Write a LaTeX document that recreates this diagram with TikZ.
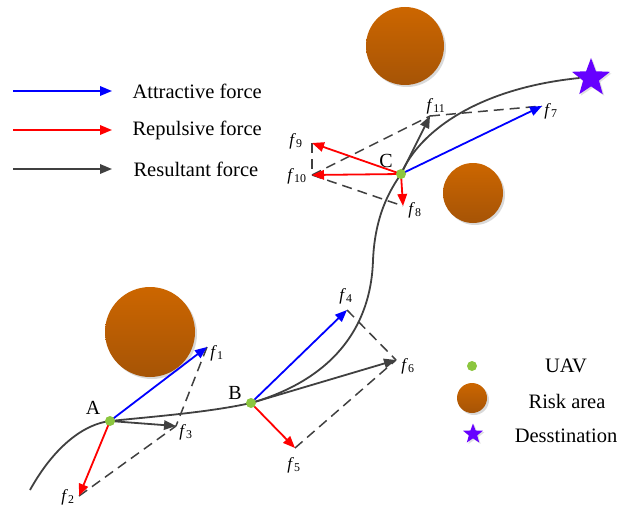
\documentclass[tikz,border=0pt]{standalone}
\usepackage{fontspec}
\setmainfont{Liberation Serif}
\usetikzlibrary{arrows.meta,shapes.geometric,shadows}

\definecolor{attract}{RGB}{0,0,255}
\definecolor{repulse}{RGB}{255,0,0}
\definecolor{result}{RGB}{64,64,64}
\definecolor{risktop}{RGB}{204,102,0}
\definecolor{riskbot}{RGB}{166,84,6}
\definecolor{uav}{RGB}{140,198,63}
\definecolor{goal}{RGB}{102,0,255}

\begin{document}
\begin{tikzpicture}[x=1pt,y=-1pt,
  force/.style={line width=1.8pt,-{Triangle[length=12pt,width=9.5pt]}},
  att/.style={force,attract},
  rep/.style={force,repulse},
  res/.style={force,result},
  comp/.style={result,line width=1.5pt,dash pattern=on 10pt off 6pt},
  risk/.style={circle,top color=risktop,bottom color=riskbot,inner sep=0pt,
    drop shadow={shadow xshift=2pt,shadow yshift=-2pt,fill=black!25,opacity=0.6}},
  uavdot/.style={circle,fill=uav,inner sep=0pt,minimum size=10pt},
  goalstar/.style={star,star points=5,star point ratio=2.4,fill=goal,inner sep=0pt,
    drop shadow={shadow xshift=1.5pt,shadow yshift=-1.5pt,fill=black!20,opacity=0.6}},
  flab/.style={font=\fontsize{17}{20}\selectfont},
  ptlab/.style={font=\fontsize{20}{24}\selectfont},
  legtext/.style={font=\fontsize{20.5}{24}\selectfont}]
\useasboundingbox (0,0) rectangle (631,508);

% risk areas
\node[risk,minimum size=78pt] (riskN) at (405,46) {};
\node[risk,minimum size=60pt] (riskE) at (473,193) {};
\node[risk,minimum size=90pt] (riskW) at (150,332) {};

% UAV positions, force tips
\coordinate (A) at (110,421);
\coordinate (B) at (251,403);
\coordinate (C) at (401,174);
\coordinate (start) at (30,490);
\coordinate (bend) at (373,260);
\coordinate (f1) at (207,347);
\coordinate (f2) at (79,496);
\coordinate (f3) at (176,426);
\coordinate (f4) at (347,310);
\coordinate (f5) at (295,448);
\coordinate (f6) at (396,360);
\coordinate (f7) at (542,106);
\coordinate (f8) at (403,206);
\coordinate (f9) at (312,143);
\coordinate (f10) at (312,175);
\coordinate (f11) at (430,116);

% destination
\node[goalstar,minimum size=40pt] (goal) at (591,78) {};

% flight path
\draw[result,line width=1.8pt] (start) .. controls (55,445) and (85,424) .. (A)
  .. controls (160,416) and (210,412) .. (B)
  .. controls (330,380) and (371,330) .. (bend)
  .. controls (375,215) and (390,190) .. (C)
  .. controls (420,130) and (480,88) .. (goal.west);

% parallelograms
\draw[comp] (f1) -- (f3);
\draw[comp] (f2) -- (f3);
\draw[comp] (f4) -- (f6);
\draw[comp] (f5) -- (f6);
\draw[comp] (f9) -- (f10);
\draw[comp] (f10) -- (f8);
\draw[comp] (f10) -- (f11);
\draw[comp] (f11) -- (f7);

% forces at A
\draw[att] (A) -- (f1);
\draw[rep] (A) -- (f2);
\draw[res] (A) -- (f3);
% forces at B
\draw[att] (B) -- (f4);
\draw[rep] (B) -- (f5);
\draw[res] (B) -- (f6);
% forces at C
\draw[att] (C) -- (f7);
\draw[rep] (C) -- (f8);
\draw[rep] (C) -- (f9);
\draw[rep] (C) -- (f10);
\draw[res] (C) -- (f11);

% UAVs
\node[uavdot] (uavA) at (A) {};
\node[uavdot] (uavB) at (B) {};
\node[uavdot] (uavC) at (C) {};
\node[ptlab] (labA) at (93,408) {A};
\node[ptlab] (labB) at (235,393) {B};
\node[ptlab] (labC) at (386,161) {C};

% force labels
\node[flab] (l1) at (217,353) {\textit{f}\textsubscript{1}};
\node[flab] (l2) at (68,497) {\textit{f}\textsubscript{2}};
\node[flab] (l3) at (186,432) {\textit{f}\textsubscript{3}};
\node[flab] (l4) at (346,296) {\textit{f}\textsubscript{4}};
\node[flab] (l5) at (294,465) {\textit{f}\textsubscript{5}};
\node[flab] (l6) at (408,366) {\textit{f}\textsubscript{6}};
\node[flab] (l7) at (551,111) {\textit{f}\textsubscript{7}};
\node[flab] (l8) at (415,210) {\textit{f}\textsubscript{8}};
\node[flab] (l9) at (296,141) {\textit{f}\textsubscript{9}};
\node[flab] (l10) at (297,176) {\textit{f}\textsubscript{10}};
\node[flab] (l11) at (436,106) {\textit{f}\textsubscript{11}};

% legend, forces
\coordinate (la1) at (13,91);  \coordinate (la2) at (112,91);
\coordinate (lr1) at (13,130); \coordinate (lr2) at (112,130);
\coordinate (ls1) at (13,169); \coordinate (ls2) at (112,169);
\draw[att] (la1) -- (la2);
\draw[rep] (lr1) -- (lr2);
\draw[res] (ls1) -- (ls2);
\node[legtext,anchor=west] (ta) at (129,91) {Attractive force};
\node[legtext,anchor=west] (tr) at (129,130) {Repulsive force};
\node[legtext,anchor=west] (ts) at (130,169) {Resultant force};

% legend, symbols
\node[uavdot] (kuav) at (472,366) {};
\node[risk,minimum size=30pt] (krisk) at (472,398) {};
\node[goalstar,minimum size=21pt] (kgoal) at (473,434) {};
\node[legtext] (tuav) at (566,366) {UAV};
\node[legtext] (trisk) at (567,401) {Risk area};
\node[legtext] (tgoal) at (566,436) {Desstination};
\end{tikzpicture}
\end{document}
